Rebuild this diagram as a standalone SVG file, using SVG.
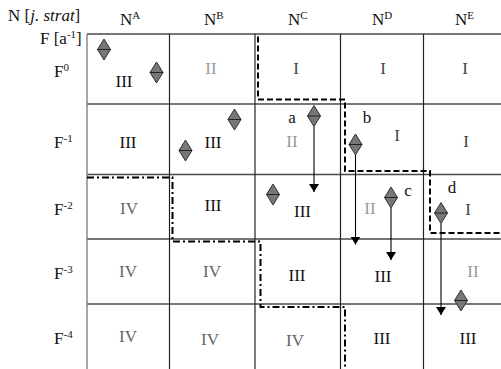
<svg xmlns="http://www.w3.org/2000/svg" width="501" height="369" viewBox="0 0 501 369">
<style>
text{font-family:"Liberation Serif","Times New Roman",serif;font-size:17px;fill:#111}
.c{text-anchor:middle}
.i1{fill:#444}
.i2{fill:#999}
.i3{fill:#111}
.i4{fill:#666}
.gh{stroke:#4a4a4a;stroke-width:1.3;fill:none}
.gv{stroke:#222;stroke-width:1.2;fill:none}
.dash{stroke:#000;stroke-width:2;fill:none;stroke-dasharray:6 3}
.dashdot{stroke:#000;stroke-width:2;fill:none;stroke-dasharray:7 3 2 3}
.arr{stroke:#000;stroke-width:1.1;fill:none;marker-end:url(#ah)}
.dm path{fill:#777;stroke:#333;stroke-width:1}
.dm line{stroke:#222;stroke-width:1}
</style>
<defs>
<marker id="ah" viewBox="0 0 8 10" refX="8" refY="5" markerWidth="8" markerHeight="10" markerUnits="userSpaceOnUse" orient="auto">
<path d="M0,0 L8,5 L0,10 Z" fill="#000"/>
</marker>
<g id="dmd" class="dm"><path d="M0,-10.5 L6.5,0 L0,10.5 L-6.5,0 Z"/><line x1="-6.5" y1="0" x2="6.5" y2="0"/></g>
</defs>
<rect width="501" height="369" fill="#fff"/>
<g id="grid">
<line class="gh" x1="87" y1="34" x2="501" y2="34"/>
<line class="gh" x1="87" y1="104" x2="501" y2="104"/>
<line class="gh" x1="87" y1="174.5" x2="501" y2="174.5"/>
<line class="gh" x1="87" y1="239" x2="501" y2="239"/>
<line class="gh" x1="87" y1="304" x2="501" y2="304"/>
<line class="gh" x1="87" y1="34" x2="87" y2="369" style="stroke:#777"/>
<line class="gv" x1="169.5" y1="34" x2="169.5" y2="369"/>
<line class="gv" x1="255" y1="34" x2="255" y2="369"/>
<line class="gv" x1="340.5" y1="34" x2="340.5" y2="369"/>
<line class="gv" x1="423.5" y1="34" x2="423.5" y2="369"/>
</g>
<g id="headers">
<text x="8" y="21">N [<tspan font-style="italic">j. strat</tspan>]</text>
<text x="40" y="44">F [a<tspan dy="-6" font-size="11">-1</tspan><tspan dy="6">]</tspan></text>
<text x="120" y="25">N<tspan dy="-6" font-size="11">A</tspan></text>
<text x="204" y="25">N<tspan dy="-6" font-size="11">B</tspan></text>
<text x="288" y="25">N<tspan dy="-6" font-size="11">C</tspan></text>
<text x="372" y="25">N<tspan dy="-6" font-size="11">D</tspan></text>
<text x="455" y="25">N<tspan dy="-6" font-size="11">E</tspan></text>
<text x="54" y="77">F<tspan dy="-6" font-size="11">0</tspan></text>
<text x="54" y="147.5">F<tspan dy="-6" font-size="11">-1</tspan></text>
<text x="54" y="215">F<tspan dy="-6" font-size="11">-2</tspan></text>
<text x="54" y="279">F<tspan dy="-6" font-size="11">-3</tspan></text>
<text x="54" y="344">F<tspan dy="-6" font-size="11">-4</tspan></text>
</g>
<g id="cells">
<text class="c i3" x="124" y="86.5">III</text>
<text class="c i2" x="211" y="74">II</text>
<text class="c i1" x="296" y="74">I</text>
<text class="c i1" x="383" y="74">I</text>
<text class="c i1" x="465" y="74">I</text>
<text class="c i3" x="128" y="147.5">III</text>
<text class="c i3" x="213" y="147.5">III</text>
<text class="c i2" x="292" y="146.5">II</text>
<text class="c i1" x="397" y="141">I</text>
<text class="c i1" x="466" y="146.5">I</text>
<text class="c i4" x="129" y="213.5">IV</text>
<text class="c i3" x="213" y="211">III</text>
<text class="c i3" x="302.5" y="216.5">III</text>
<text class="c i2" x="370" y="213.5">II</text>
<text class="c i1" x="468" y="215">I</text>
<text class="c i4" x="128" y="277">IV</text>
<text class="c i4" x="212" y="277">IV</text>
<text class="c i3" x="297" y="280.5">III</text>
<text class="c i3" x="383" y="281.5">III</text>
<text class="c i2" x="473" y="277">II</text>
<text class="c i4" x="128" y="342">IV</text>
<text class="c i4" x="210" y="345">IV</text>
<text class="c i4" x="295" y="345.5">IV</text>
<text class="c i3" x="382" y="344">III</text>
<text class="c i3" x="468" y="344">III</text>
<text class="c" x="292" y="123">a</text>
<text class="c" x="367" y="123">b</text>
<text class="c" x="408" y="195.5">c</text>
<text class="c" x="452" y="193">d</text>
</g>
<g id="boundaries">
<path class="dash" d="M258,36.5 V99.5 H345 V171 H430 V233 H501"/>
<path class="dashdot" d="M87,177.5 H172.5 V241.5 H260.5 V307 H345 V369"/>
</g>
<g id="connectors">
<line class="arr" x1="314" y1="126.5" x2="314" y2="192"/>
<line class="arr" x1="355.5" y1="155" x2="355.5" y2="244.5"/>
<line class="arr" x1="391" y1="208" x2="391" y2="260"/>
<line class="arr" x1="441" y1="223.5" x2="441" y2="315"/>
</g>
<g id="diamonds">
<use id="d1" href="#dmd" x="104" y="49.5"/>
<use id="d2" href="#dmd" x="156.5" y="72.5"/>
<use id="d3" href="#dmd" x="234.5" y="119.5"/>
<use id="d4" href="#dmd" x="185.5" y="150.5"/>
<use id="da" href="#dmd" x="314" y="116"/>
<use id="db" href="#dmd" x="355.5" y="144.5"/>
<use id="d7" href="#dmd" x="273" y="194.5"/>
<use id="dc" href="#dmd" x="391" y="197.5"/>
<use id="dd" href="#dmd" x="441" y="213"/>
<use id="d10" href="#dmd" x="461" y="300.5"/>
</g>
</svg>
